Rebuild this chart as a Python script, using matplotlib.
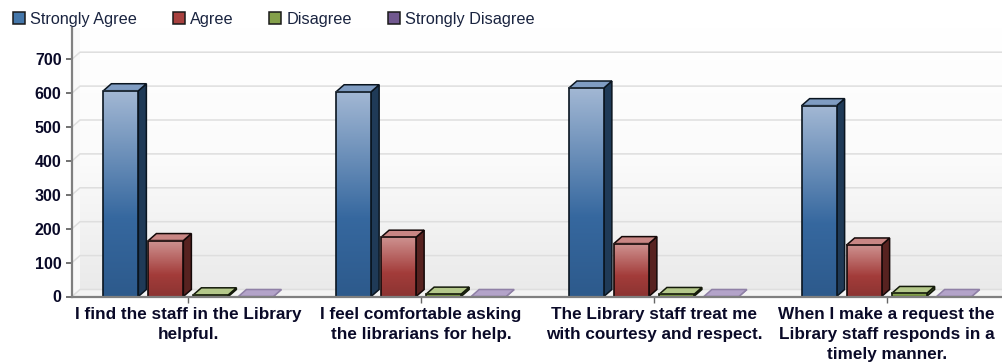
import numpy as np
import matplotlib
matplotlib.use("Agg")
import matplotlib.pyplot as plt
from matplotlib.colors import LinearSegmentedColormap
from matplotlib.patches import Patch, Polygon

categories = ["I find the staff in the Library\nhelpful.",
              "I feel comfortable asking\nthe librarians for help.",
              "The Library staff treat me\nwith courtesy and respect.",
              "When I make a request the\nLibrary staff responds in a\ntimely manner."]
series_names = ["Strongly Agree", "Agree", "Disagree", "Strongly Disagree"]
strongly_agree = [607, 604, 615, 563]
agree = [165, 175, 156, 152]
disagree = [5, 7, 6, 9]
strongly_disagree = [0, 0, 0, 0]
y_ticks = [0, 100, 200, 300, 400, 500, 600, 700]

series = [strongly_agree, agree, disagree, strongly_disagree]
swatch = ["#4577aa", "#a8413f", "#84a04a", "#71588f"]
# top of gradient, middle, bottom, side face, top face, edge
styles = [("#a3b8d4", "#36689f", "#2d5a8c", "#1f3a57", "#7f9cc2", "#0a1520"),
          ("#cf9492", "#a33c3a", "#8c3432", "#572220", "#c98684", "#140808"),
          ("#c3d19c", "#84a04a", "#6f8a3c", "#46582a", "#b4c88a", "#141a0a"),
          ("#b6a6cb", "#7f68a0", "#6f5a8e", "#5d4a77", "#b3a3c9", "#8f80a6")]

W, H = 1003, 364
X0, X1 = 72, 1003
Y0, Y_TOP = 296.5, 28
PX_PER_UNIT = 0.339
DX, DY = 8, 7

fig = plt.figure(figsize=(W / 100, H / 100), dpi=100)
ax = fig.add_axes([X0 / W, (H - Y0) / H, (X1 - X0) / W, (Y0 - Y_TOP) / H])
ymax = (Y0 - Y_TOP) / PX_PER_UNIT
px_x = (X1 - X0) / 4
dx = DX / px_x
dy = DY / PX_PER_UNIT

# back wall gradient
wall = LinearSegmentedColormap.from_list("wall", ["#ffffff", "#fbfbfb", "#eaeaea"])
grad = np.linspace(0, 1, 256).reshape(-1, 1)
ax.imshow(grad, cmap=wall, aspect="auto", extent=(-0.5 + dx, 3.5, dy, ymax), zorder=0)
ax.add_patch(Polygon([(-0.5, 0), (-0.5 + dx, dy), (-0.5 + dx, ymax), (-0.5, ymax)],
                     facecolor="#f8f8f8", edgecolor="none", zorder=0.5))
ax.add_patch(Polygon([(-0.5, 0), (-0.5 + dx, dy), (3.5, dy), (3.5, 0)],
                     facecolor="#f3f3f3", edgecolor="none", zorder=0.5))

# gridlines run along the back wall and fold down the side wall
for t in y_ticks:
    ax.plot([-0.5, -0.5 + dx, 3.5], [t, t + dy, t + dy], color="#dedede", lw=1.1,
            zorder=1, solid_joinstyle="miter")

step = 45 / px_x
bar_w = 35 / px_x
for s, values in enumerate(series):
    top_c, mid_c, bot_c, side_c, lid_c, edge_c = styles[s]
    cmap = LinearSegmentedColormap.from_list("b%d" % s, [(0, top_c), (0.62, mid_c), (1, bot_c)])
    for i, v in enumerate(values):
        left = i + (s - 1.5) * step - bar_w / 2
        right = left + bar_w
        z = 3 + s * 0.1
        # side and top faces
        ax.add_patch(Polygon([(right, 0), (right + dx, dy), (right + dx, v + dy), (right, v)],
                             facecolor=side_c, edgecolor=edge_c, lw=1.1, zorder=z))
        ax.add_patch(Polygon([(left, v), (left + dx, v + dy), (right + dx, v + dy), (right, v)],
                             facecolor=lid_c, edgecolor=edge_c, lw=1.1, zorder=z))
        if v > 0:
            ax.imshow(grad, cmap=cmap, aspect="auto", extent=(left, right, 0, v), zorder=z + 0.01)
            ax.bar(left, v, width=bar_w, align="edge", facecolor="none",
                   edgecolor=edge_c, lw=1.2, zorder=z + 0.02)
ax.set_xlim(-0.5, 3.5)
ax.set_ylim(0, ymax)

for side in ["top", "right"]:
    ax.spines[side].set_visible(False)
ax.spines["left"].set_color("#7f7f7f")
ax.spines["left"].set_linewidth(1.6)
ax.spines["bottom"].set_color("#7f7f7f")
ax.spines["bottom"].set_linewidth(1.6)
ax.spines["left"].set_zorder(6)
ax.spines["bottom"].set_zorder(6)

ax.set_yticks(y_ticks)
ax.set_yticklabels([str(t) for t in y_ticks], fontfamily="Liberation Sans",
                   fontweight="bold", fontsize=11.5, color="#0a0a28")
ax.set_xticks(range(len(categories)))
ax.set_xticklabels(categories, fontfamily="Liberation Sans", fontweight="bold",
                   fontsize=12.3, color="#0a0a28", linespacing=1.4)
ax.tick_params(axis="y", length=4.5, width=1.3, color="#666666", pad=3)
ax.tick_params(axis="x", length=4, width=1, color="#666666", pad=3.5)

handles = [Patch(facecolor=swatch[i], edgecolor="#1a1a1a", lw=1.1) for i in range(4)]
fig.legend(handles, series_names, loc="upper left", bbox_to_anchor=(8 / W, 1 - 7 / H),
           ncol=4, frameon=False, handlelength=0.74, handleheight=0.74,
           handletextpad=0.32, columnspacing=2.2, borderaxespad=0, borderpad=0.3,
           prop={"family": "Liberation Sans", "size": 11.7}, labelcolor="#1a2440")

plt.savefig("out.png", dpi=100)
plt.close()
